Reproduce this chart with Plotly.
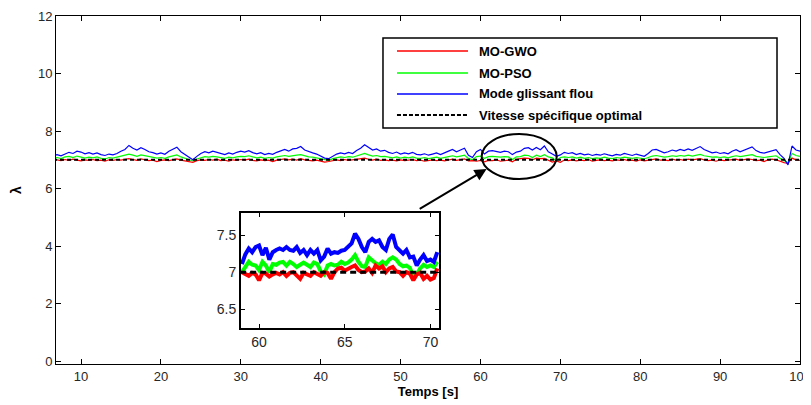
import plotly.graph_objects as go

# ---------------- data ----------------
t_start = 6.5
t_step = 0.5

blue_main = [
    7.15, 7.18, 7.14, 7.20, 7.26, 7.22, 7.30, 7.27, 7.21, 7.25,
    7.20, 7.24, 7.18, 7.15, 7.20, 7.17, 7.22, 7.30, 7.36, 7.50,
    7.40, 7.34, 7.42, 7.36, 7.28, 7.25, 7.20, 7.24, 7.19, 7.30,
    7.38, 7.44, 7.28, 7.18, 7.10, 7.00, 7.12, 7.22, 7.28, 7.24,
    7.30, 7.26, 7.22, 7.18, 7.24, 7.20, 7.26, 7.30, 7.27, 7.32,
    7.25, 7.21, 7.25, 7.18, 7.22, 7.19, 7.26, 7.32, 7.36, 7.30,
    7.38, 7.40, 7.46, 7.34, 7.28, 7.24, 7.20, 7.14, 7.06, 7.04,
    7.12, 7.20, 7.24, 7.21, 7.26, 7.22, 7.32, 7.40, 7.52, 7.42,
    7.34, 7.38, 7.30, 7.33, 7.26, 7.22, 7.27, 7.20, 7.24, 7.21,
    7.26, 7.19, 7.17, 7.21, 7.16, 7.20, 7.24, 7.18, 7.25, 7.30,
    7.36, 7.28, 7.34, 7.40, 7.16, 7.08, 7.28, 7.36, 7.20, 7.30,
    7.32, 7.29, 7.26, 7.30, 7.28, 7.18, 7.27, 7.30, 7.40, 7.42,
    7.34, 7.43, 7.35, 7.48, 7.28, 7.20, 7.12, 7.17, 7.26, 7.22,
    7.25, 7.18, 7.22, 7.17, 7.20, 7.15, 7.19, 7.16, 7.21, 7.17,
    7.14, 7.19, 7.16, 7.22, 7.18, 7.15, 7.20, 7.16, 7.12, 7.22,
    7.34, 7.36, 7.30, 7.24, 7.28, 7.34, 7.30, 7.36, 7.32, 7.38,
    7.33, 7.40, 7.46, 7.36, 7.30, 7.24, 7.27, 7.22, 7.25, 7.21,
    7.30, 7.35, 7.28, 7.34, 7.38, 7.45, 7.32, 7.26, 7.23, 7.27,
    7.33, 7.35, 7.18, 7.05, 6.82, 7.48, 7.34, 7.30,
]

green_main = [
    7.05, 7.08, 7.04, 7.10, 7.12, 7.08, 7.13, 7.10, 7.06, 7.09,
    7.07, 7.10, 7.05, 7.03, 7.08, 7.06, 7.09, 7.12, 7.15, 7.20,
    7.16, 7.12, 7.17, 7.14, 7.10, 7.09, 7.06, 7.08, 7.05, 7.10,
    7.14, 7.17, 7.10, 7.05, 7.02, 6.96, 7.03, 7.08, 7.11, 7.09,
    7.12, 7.10, 7.08, 7.05, 7.09, 7.07, 7.10, 7.12, 7.11, 7.14,
    7.10, 7.07, 7.09, 7.05, 7.08, 7.06, 7.10, 7.13, 7.15, 7.12,
    7.15, 7.16, 7.18, 7.13, 7.10, 7.09, 7.06, 7.04, 7.00, 6.98,
    7.04, 7.07, 7.10, 7.08, 7.11, 7.09, 7.13, 7.16, 7.22, 7.17,
    7.13, 7.15, 7.11, 7.12, 7.09, 7.07, 7.10, 7.06, 7.09, 7.07,
    7.10, 7.06, 7.05, 7.08, 7.04, 7.07, 7.09, 7.05, 7.09, 7.11,
    7.14, 7.10, 7.13, 7.16, 7.05, 7.00, 7.11, 7.13, 7.05, 7.11,
    7.12, 7.10, 7.09, 7.11, 7.10, 7.01, 7.10, 7.11, 7.16, 7.15,
    7.08, 7.16, 7.11, 7.18, 7.10, 7.07, 6.96, 7.08, 7.10, 7.08,
    7.10, 7.06, 7.09, 7.05, 7.08, 7.04, 7.07, 7.05, 7.09, 7.06,
    7.04, 7.08, 7.06, 7.09, 7.07, 7.05, 7.08, 7.06, 7.03, 7.08,
    7.13, 7.15, 7.12, 7.09, 7.11, 7.14, 7.12, 7.15, 7.13, 7.16,
    7.13, 7.16, 7.19, 7.14, 7.11, 7.09, 7.10, 7.08, 7.10, 7.07,
    7.11, 7.14, 7.11, 7.13, 7.15, 7.18, 7.12, 7.09, 7.08, 7.10,
    7.13, 7.14, 7.05, 6.98, 6.90, 7.22, 7.15, 7.12,
]

red_main = [
    6.99, 7.00, 6.97, 7.01, 6.98, 7.02, 6.99, 6.96, 7.00, 6.98,
    7.01, 6.97, 6.99, 6.95, 7.00, 6.98, 7.01, 6.99, 7.02, 7.04,
    7.01, 6.98, 7.03, 7.00, 6.97, 6.99, 6.94, 6.98, 7.00, 6.97,
    7.01, 7.03, 6.99, 6.96, 6.93, 6.91, 6.97, 7.00, 6.98, 7.01,
    6.99, 7.02, 6.97, 6.99, 6.95, 7.00, 6.98, 7.01, 6.99, 7.02,
    6.98, 6.96, 7.00, 6.97, 6.99, 6.94, 6.99, 7.01, 7.03, 7.00,
    7.02, 6.99, 7.04, 7.00, 6.98, 6.96, 6.99, 6.95, 6.92, 6.94,
    6.98, 7.00, 6.97, 7.01, 6.98, 7.00, 7.02, 7.03, 7.06, 7.02,
    6.99, 7.02, 6.98, 7.00, 6.97, 6.99, 6.96, 7.00, 6.97, 6.99,
    7.01, 6.97, 6.99, 6.95, 6.98, 7.00, 6.97, 6.99, 6.96, 7.00,
    7.02, 6.98, 7.00, 7.03, 6.96, 6.97, 6.95, 6.98, 6.93, 6.98,
    6.97, 7.00, 6.95, 6.97, 6.99, 6.93, 7.02, 7.04, 7.06, 7.05,
    7.00, 7.06, 7.04, 7.05, 6.99, 6.92, 6.96, 6.91, 6.99, 6.97,
    7.00, 6.96, 6.99, 6.97, 7.01, 6.95, 6.98, 7.00, 6.97, 6.99,
    6.96, 7.00, 6.98, 7.01, 6.97, 6.99, 6.95, 7.00, 6.96, 6.98,
    7.01, 7.03, 6.99, 7.00, 6.97, 7.02, 6.99, 7.01, 6.98, 7.02,
    7.00, 7.03, 7.04, 7.00, 6.97, 6.99, 6.95, 7.00, 6.97, 6.99,
    7.01, 7.02, 6.98, 7.00, 7.03, 7.01, 6.97, 6.99, 6.94, 7.00,
    7.02, 7.00, 6.94, 6.90, 6.88, 7.06, 7.00, 6.98,
]

optimal_value = 7.0

# inset (zoom on 59 s .. 70.4 s)
inset_start = 59.0
inset_step = 0.2

blue_inset = [
    7.11, 7.24, 7.32, 7.27, 7.34, 7.36, 7.23, 7.33, 7.17, 7.27,
    7.30, 7.32, 7.30, 7.34, 7.30, 7.29, 7.34, 7.26, 7.30, 7.23,
    7.30, 7.25, 7.30, 7.16, 7.21, 7.32, 7.25, 7.27, 7.26, 7.29,
    7.30, 7.34, 7.39, 7.52, 7.45, 7.34, 7.27, 7.41, 7.45, 7.41,
    7.43, 7.34, 7.30, 7.45, 7.51, 7.34, 7.30, 7.25, 7.30, 7.20,
    7.21, 7.09, 7.17, 7.23, 7.15, 7.17, 7.14, 7.27,
]
green_inset = [
    7.00, 7.08, 7.14, 7.10, 7.09, 7.03, 7.14, 7.09, 7.00, 7.11,
    7.10, 7.13, 7.14, 7.09, 7.14, 7.11, 7.07, 7.10, 7.13, 7.10,
    7.07, 7.13, 7.11, 7.01, 6.97, 7.09, 7.11, 7.09, 7.10, 7.14,
    7.11, 7.13, 7.17, 7.23, 7.14, 7.08, 7.07, 7.20, 7.16, 7.12,
    7.10, 7.14, 7.11, 7.17, 7.20, 7.17, 7.11, 7.08, 7.09, 7.06,
    6.94, 6.97, 7.05, 7.10, 7.07, 7.09, 7.07, 7.14,
]
red_inset = [
    7.00, 6.97, 6.95, 6.99, 6.97, 6.89, 6.99, 6.98, 6.94, 6.97,
    6.99, 6.97, 7.00, 6.95, 6.99, 7.00, 6.95, 6.91, 6.99, 6.97,
    6.95, 7.00, 6.98, 6.95, 7.00, 6.99, 6.91, 7.00, 7.05, 7.06,
    7.02, 7.05, 7.07, 7.09, 7.03, 7.00, 7.01, 7.05, 6.99, 7.09,
    7.05, 7.08, 7.00, 7.05, 7.07, 7.01, 7.00, 6.95, 7.00, 6.98,
    6.89, 6.97, 6.99, 6.91, 6.95, 6.90, 6.92, 7.05,
]

series_names = ["MO-GWO", "MO-PSO", "Mode glissant flou", "Vitesse spécifique optimal"]
x_ticks = [10, 20, 30, 40, 50, 60, 70, 80, 90, 100]
y_ticks = [0, 2, 4, 6, 8, 10, 12]
inset_x_ticks = [60, 65, 70]
inset_y_ticks = [6.5, 7, 7.5]

# ---------------- build ----------------
t_main = [round(t_start + t_step * i, 3) for i in range(len(blue_main))]
t_inset = [round(inset_start + inset_step * i, 3) for i in range(len(blue_inset))]

RED, GREEN, BLUE = "#FF0000", "#00FF00", "#0000FF"
FONT = "Liberation Sans, Arial, sans-serif"

fig = go.Figure()

# main axes traces
fig.add_trace(go.Scatter(x=t_main, y=green_main, mode="lines", line=dict(color=GREEN, width=1.2),
                         name=series_names[1], showlegend=False))
fig.add_trace(go.Scatter(x=t_main, y=red_main, mode="lines", line=dict(color=RED, width=1.2),
                         name=series_names[0], showlegend=False))
fig.add_trace(go.Scatter(x=t_main, y=blue_main, mode="lines", line=dict(color=BLUE, width=1.2),
                         name=series_names[2], showlegend=False))
fig.add_trace(go.Scatter(x=[t_main[0], t_main[-1]], y=[optimal_value, optimal_value], mode="lines",
                         line=dict(color="black", width=2, dash="4px,3px"),
                         name=series_names[3], showlegend=False))

# inset traces
fig.add_trace(go.Scatter(x=t_inset, y=green_inset, mode="lines", line=dict(color=GREEN, width=4),
                         xaxis="x2", yaxis="y2", showlegend=False))
fig.add_trace(go.Scatter(x=t_inset, y=red_inset, mode="lines", line=dict(color=RED, width=4),
                         xaxis="x2", yaxis="y2", showlegend=False))
fig.add_trace(go.Scatter(x=t_inset, y=blue_inset, mode="lines", line=dict(color=BLUE, width=4),
                         xaxis="x2", yaxis="y2", showlegend=False))
fig.add_trace(go.Scatter(x=[58.9, 70.6], y=[optimal_value, optimal_value], mode="lines",
                         line=dict(color="black", width=3, dash="6px,4px"),
                         xaxis="x2", yaxis="y2", showlegend=False))

axis_common = dict(showline=True, linecolor="black", mirror="ticks", ticks="inside",
                   tickcolor="black", showgrid=False, zeroline=False, automargin=False)

# the page body adds an 8 px offset; the figure is sized so the plot lands where the original is
fig.update_layout(
    width=803, height=397,
    margin=dict(l=48, r=11, t=8, b=41),
    paper_bgcolor="white", plot_bgcolor="white",
    xaxis=dict(**axis_common, range=[6.87, 100], tickvals=x_ticks, ticklen=5, linewidth=1,
               domain=[0, 1], tickfont=dict(family=FONT, size=13, color="#262626"),
               title=dict(text="<b>Temps [s]</b>", font=dict(family=FONT, size=13, color="black"),
                          standoff=2)),
    yaxis=dict(**axis_common, range=[-0.1, 12], tickvals=y_ticks, ticklen=5, linewidth=1,
               domain=[0, 1], tickfont=dict(family=FONT, size=13, color="#262626"),
               title=dict(text="<b>λ</b>", font=dict(family=FONT, size=14, color="black"),
                          standoff=14)),
    xaxis2=dict(**axis_common, range=[58.95, 70.5], tickvals=inset_x_ticks, ticklen=4,
                linewidth=2, domain=[0.2487, 0.5148], anchor="y2",
                tickfont=dict(family=FONT, size=14, color="#262626")),
    yaxis2=dict(**axis_common, range=[6.245, 7.8], tickvals=inset_y_ticks, ticklen=4,
                linewidth=2, domain=[0.1034, 0.4339], anchor="x2",
                tickfont=dict(family=FONT, size=14, color="#262626")),
)

# ellipse around the zoomed region and the arrow
fig.add_shape(type="circle", xref="x", yref="y", x0=60.15, x1=69.55, y0=6.33, y1=7.90,
              line=dict(color="black", width=2))
fig.add_annotation(x=60.77, y=6.68, ax=52.21, ay=5.26, xref="x", yref="y", axref="x", ayref="y",
                   showarrow=True, arrowhead=2, arrowsize=1.2, arrowwidth=2, arrowcolor="black", text="")

# legend box drawn as in the original
fig.add_shape(type="rect", xref="paper", yref="paper", x0=0.4395, x1=0.9691, y0=0.6782, y1=0.9368,
              line=dict(color="black", width=1.5), fillcolor="white")
legend_colors = [RED, GREEN, BLUE, "black"]
legend_dash = ["solid", "solid", "solid", "4px,2px"]
legend_rows = [0.8994, 0.8362, 0.7759, 0.7155]
for name, col, dsh, yy in zip(series_names, legend_colors, legend_dash, legend_rows):
    fig.add_shape(type="line", xref="paper", yref="paper", x0=0.4583, x1=0.5538, y0=yy, y1=yy,
                  line=dict(color=col, width=1.5 if col != "black" else 2, dash=dsh))
    fig.add_annotation(x=0.5659, y=yy, xref="paper", yref="paper", text="<b>%s</b>" % name,
                       showarrow=False, xanchor="left", yanchor="middle",
                       font=dict(family=FONT, size=13, color="black"))

fig.write_html("out.html")
